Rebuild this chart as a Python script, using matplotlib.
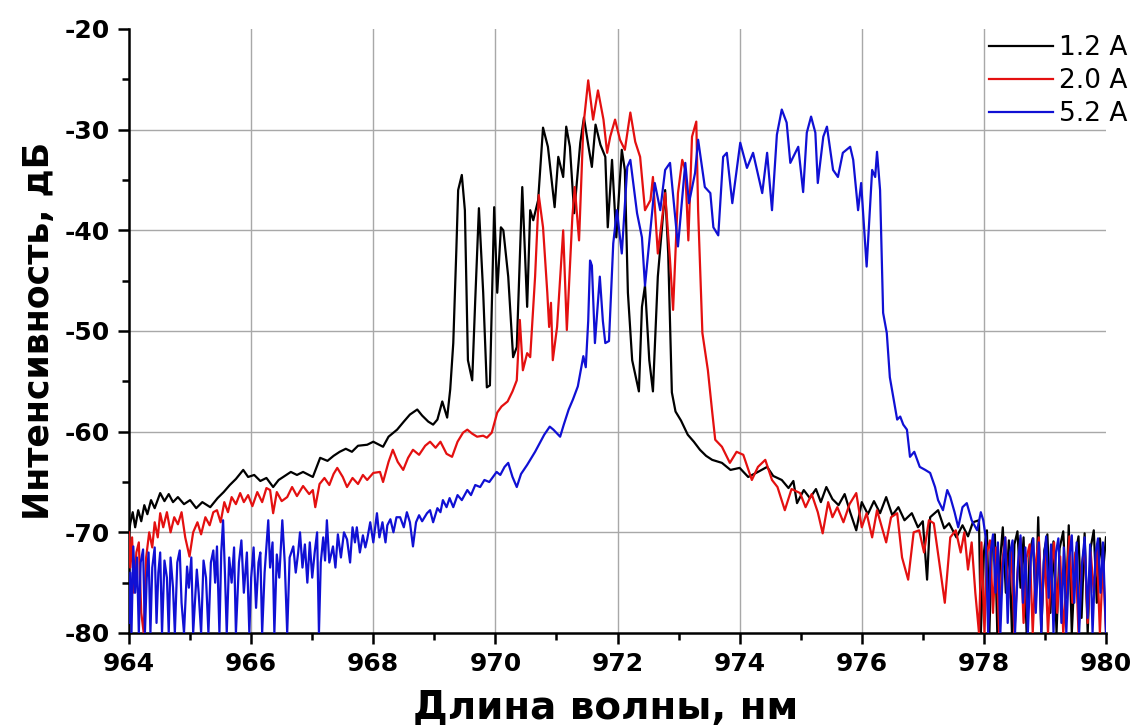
import matplotlib
matplotlib.use("Agg")
import matplotlib.pyplot as plt

plt.rcParams["axes.unicode_minus"] = False

# spectra: wavelength (nm) and intensity (dB)
x_12 = [964.00, 964.02, 964.06, 964.10, 964.15, 964.20, 964.25, 964.30, 964.36, 964.42,
        964.51, 964.58, 964.65, 964.72, 964.80, 964.90, 965.00, 965.10, 965.20, 965.33,
        965.45, 965.55, 965.65, 965.75, 965.87, 965.95, 966.05, 966.15, 966.25, 966.36,
        966.45, 966.55, 966.65, 966.75, 966.85, 967.01, 967.08, 967.13, 967.25, 967.35,
        967.45, 967.55, 967.65, 967.75, 967.90, 968.00, 968.16, 968.25, 968.39, 968.50,
        968.60, 968.72, 968.80, 968.90, 968.98, 969.05, 969.13, 969.21, 969.26, 969.31,
        969.36, 969.39, 969.45, 969.50, 969.55, 969.62, 969.67, 969.73, 969.80, 969.86,
        969.91, 969.98, 970.03, 970.09, 970.13, 970.21, 970.29, 970.35, 970.44, 970.52,
        970.57, 970.62, 970.70, 970.78, 970.86, 970.97, 971.03, 971.11, 971.16, 971.22,
        971.29, 971.39, 971.45, 971.52, 971.58, 971.64, 971.72, 971.80, 971.84, 971.91,
        971.98, 972.07, 972.12, 972.17, 972.24, 972.35, 972.40, 972.45, 972.52, 972.58,
        972.66, 972.78, 972.83, 972.89, 972.95, 973.04, 973.15, 973.25, 973.35, 973.45,
        973.55, 973.71, 973.85, 974.00, 974.14, 974.30, 974.45, 974.55, 974.69, 974.80,
        974.88, 974.94, 975.05, 975.15, 975.25, 975.33, 975.42, 975.52, 975.62, 975.72,
        975.81, 975.91, 976.00, 976.10, 976.20, 976.30, 976.40, 976.50, 976.60, 976.70,
        976.82, 976.92, 977.00, 977.07, 977.12, 977.25, 977.35, 977.43, 977.55, 977.65,
        977.74, 977.82, 977.92, 977.95, 978.00, 978.05, 978.09, 978.13, 978.18, 978.22,
        978.27, 978.31, 978.36, 978.41, 978.46, 978.50, 978.55, 978.60, 978.65, 978.70,
        978.75, 978.80, 978.85, 978.89, 978.94, 978.99, 979.04, 979.09, 979.14, 979.19,
        979.24, 979.30, 979.35, 979.39, 979.44, 979.50, 979.55, 979.60, 979.65, 979.70,
        979.75, 979.80, 979.85, 979.90, 979.95, 980.00]
y_12 = [-70.0, -69.1, -68.0, -69.5, -67.8, -68.9, -67.3, -68.2, -66.8, -67.6,
        -66.1, -66.9, -66.2, -67.0, -66.5, -67.2, -66.8, -67.6, -67.0, -67.5,
        -66.6, -66.0, -65.3, -64.7, -63.8, -64.5, -64.3, -64.9, -64.6, -65.5,
        -64.8, -64.4, -64.0, -64.3, -64.0, -64.5, -63.4, -62.6, -62.9, -62.4,
        -62.0, -61.7, -62.0, -61.4, -61.3, -61.0, -61.5, -60.5, -59.8, -59.0,
        -58.3, -57.8, -58.4, -59.0, -59.3, -58.8, -57.0, -58.6, -55.8, -51.2,
        -42.0, -36.0, -34.5, -38.0, -52.9, -54.9, -46.9, -37.8, -46.2, -55.6,
        -55.4, -37.7, -46.2, -39.7, -40.0, -44.6, -52.6, -51.6, -35.7, -47.6,
        -38.0, -39.0, -37.0, -29.8, -31.7, -37.7, -32.7, -34.7, -29.7, -31.7,
        -38.3, -31.3, -28.8, -31.5, -33.7, -29.5, -31.5, -32.7, -39.7, -33.0,
        -40.7, -32.0, -34.0, -46.2, -52.9, -56.0, -47.6, -45.5, -52.9, -56.0,
        -44.6, -36.0, -42.3, -56.1, -58.0, -58.9, -60.3, -61.0, -61.8, -62.4,
        -62.8, -63.1, -63.8, -63.6, -64.5, -64.0, -63.5, -64.4, -64.8, -65.6,
        -64.9, -67.1, -65.8, -66.6, -65.7, -67.0, -65.5, -66.7, -67.3, -66.2,
        -68.0, -69.8, -67.0, -68.2, -66.9, -68.1, -66.5, -68.3, -67.5, -68.8,
        -68.1, -69.5, -68.9, -74.7, -68.5, -67.8, -69.6, -69.1, -70.5, -69.3,
        -70.4, -69.0, -68.8, -80.0, -72.0, -69.8, -80.0, -71.5, -70.2, -80.0,
        -72.5, -69.5, -76.0, -70.8, -80.0, -71.2, -69.9, -75.5, -70.5, -80.0,
        -72.0, -70.6, -77.0, -68.5, -80.0, -71.8, -70.2, -78.0, -70.9, -80.0,
        -71.6, -69.9, -76.5, -69.3, -80.0, -72.2, -70.4, -78.5, -70.1, -80.0,
        -71.5, -69.8, -77.0, -70.6, -74.0, -70.5]

x_20 = [964.00, 964.02, 964.05, 964.08, 964.12, 964.16, 964.20, 964.24, 964.28, 964.33,
        964.38, 964.42, 964.47, 964.51, 964.56, 964.62, 964.68, 964.74, 964.80, 964.86,
        964.92, 964.99, 965.05, 965.12, 965.18, 965.25, 965.32, 965.38, 965.44, 965.50,
        965.56, 965.62, 965.68, 965.75, 965.82, 965.88, 965.95, 966.02, 966.10, 966.18,
        966.25, 966.31, 966.36, 966.42, 966.50, 966.59, 966.67, 966.75, 966.85, 966.95,
        967.01, 967.05, 967.12, 967.20, 967.28, 967.35, 967.41, 967.50, 967.57, 967.66,
        967.75, 967.83, 967.90, 968.00, 968.11, 968.16, 968.25, 968.32, 968.40, 968.49,
        968.57, 968.65, 968.75, 968.85, 968.93, 969.02, 969.10, 969.20, 969.29, 969.38,
        969.47, 969.54, 969.62, 969.70, 969.80, 969.86, 969.94, 970.03, 970.10, 970.20,
        970.28, 970.35, 970.40, 970.45, 970.52, 970.57, 970.65, 970.71, 970.78, 970.85,
        970.88, 970.91, 970.94, 971.01, 971.11, 971.17, 971.26, 971.30, 971.37, 971.44,
        971.52, 971.60, 971.68, 971.77, 971.83, 971.88, 971.96, 972.04, 972.12, 972.21,
        972.29, 972.37, 972.45, 972.54, 972.58, 972.66, 972.78, 972.86, 972.91, 972.99,
        973.06, 973.11, 973.16, 973.22, 973.29, 973.32, 973.39, 973.48, 973.55, 973.60,
        973.71, 973.84, 973.95, 974.06, 974.20, 974.30, 974.42, 974.53, 974.62, 974.74,
        974.85, 974.99, 975.08, 975.18, 975.28, 975.36, 975.45, 975.52, 975.60, 975.70,
        975.80, 975.91, 976.00, 976.08, 976.17, 976.25, 976.33, 976.40, 976.48, 976.58,
        976.66, 976.76, 976.85, 976.94, 977.02, 977.10, 977.18, 977.27, 977.36, 977.45,
        977.54, 977.62, 977.68, 977.74, 977.80, 977.86, 977.92, 977.96, 978.01, 978.05,
        978.10, 978.15, 978.20, 978.25, 978.30, 978.35, 978.40, 978.45, 978.50, 978.55,
        978.60, 978.65, 978.70, 978.75, 978.80, 978.85, 978.90, 978.95, 979.00, 979.05,
        979.10, 979.15, 979.20, 979.25, 979.30, 979.35, 979.40, 979.45, 979.50, 979.55,
        979.60, 979.65, 979.70, 979.75, 979.80, 979.85, 979.90, 979.95, 980.00]
y_20 = [-70.0, -73.5, -70.5, -76.0, -72.0, -71.0, -78.0, -80.0, -72.5, -70.0,
        -71.5, -69.0, -70.5, -68.1, -69.5, -68.0, -70.0, -68.5, -69.2, -68.0,
        -70.5, -72.4, -70.0, -69.0, -70.2, -68.5, -69.3, -68.0, -67.8, -69.0,
        -67.0, -68.0, -66.5, -67.2, -66.1, -67.0, -66.3, -67.4, -66.0, -67.0,
        -65.6, -65.8, -68.1, -66.0, -66.9, -66.5, -65.5, -66.4, -65.4, -66.2,
        -65.8, -67.5, -65.2, -64.6, -65.3, -64.2, -63.6, -64.5, -65.5, -64.6,
        -65.2, -64.3, -64.8, -64.1, -64.0, -65.0, -63.0, -61.8, -63.0, -63.8,
        -62.6, -61.8, -62.3, -61.4, -61.0, -61.6, -61.0, -62.2, -62.5, -61.0,
        -60.1, -59.8, -60.2, -60.5, -60.4, -60.6, -60.1, -58.1, -57.5, -57.0,
        -56.0, -54.9, -48.9, -53.9, -52.2, -52.6, -44.6, -36.5, -39.7, -46.2,
        -49.6, -47.2, -52.9, -49.6, -40.0, -49.9, -38.7, -35.7, -41.0, -29.7,
        -25.1, -29.0, -26.1, -29.0, -32.3, -30.7, -29.0, -31.0, -32.0, -28.3,
        -31.2, -32.7, -38.0, -37.0, -34.7, -42.3, -36.3, -43.0, -47.9, -36.3,
        -33.0, -34.0, -41.0, -30.7, -29.2, -38.0, -50.2, -53.9, -58.0, -60.8,
        -61.5, -63.1, -62.0, -62.3, -64.8, -63.5, -62.8, -64.8, -65.5, -67.8,
        -65.7, -66.1, -67.5, -66.2, -68.0, -70.1, -67.0, -68.5, -67.5, -69.0,
        -67.2, -66.1, -69.5, -68.1, -70.5, -67.8, -69.5, -71.0, -68.5, -68.1,
        -72.5, -74.7, -70.0, -69.8, -72.0, -68.8, -69.1, -73.0, -77.0, -70.5,
        -69.8, -72.0, -70.0, -73.7, -71.0, -76.0, -80.0, -71.0, -80.0, -72.0,
        -70.8, -78.0, -71.5, -80.0, -73.0, -70.5, -76.5, -71.8, -80.0, -74.0,
        -70.6, -79.0, -72.5, -71.2, -80.0, -73.0, -70.5, -77.5, -72.0, -80.0,
        -74.0, -71.0, -78.0, -72.4, -80.0, -75.0, -70.4, -77.0, -72.0, -80.0,
        -73.5, -71.2, -79.0, -72.0, -76.0, -71.5, -80.0, -73.0, -80.0]

x_52 = [964.00, 964.02, 964.04, 964.07, 964.10, 964.13, 964.16, 964.19, 964.23, 964.26,
        964.29, 964.32, 964.35, 964.38, 964.42, 964.45, 964.48, 964.51, 964.54, 964.58,
        964.62, 964.65, 964.68, 964.72, 964.75, 964.79, 964.83, 964.86, 964.90, 964.95,
        964.98, 965.02, 965.05, 965.11, 965.14, 965.18, 965.22, 965.26, 965.30, 965.34,
        965.38, 965.41, 965.44, 965.48, 965.51, 965.54, 965.57, 965.60, 965.64, 965.68,
        965.72, 965.75, 965.80, 965.84, 965.88, 965.93, 965.97, 966.00, 966.04, 966.08,
        966.12, 966.15, 966.18, 966.22, 966.28, 966.31, 966.35, 966.38, 966.42, 966.46,
        966.51, 966.55, 966.59, 966.63, 966.69, 966.73, 966.77, 966.80, 966.84, 966.88,
        966.92, 966.96, 967.00, 967.04, 967.08, 967.11, 967.14, 967.18, 967.21, 967.24,
        967.28, 967.34, 967.38, 967.42, 967.47, 967.52, 967.57, 967.62, 967.66, 967.70,
        967.73, 967.78, 967.83, 967.87, 967.90, 967.95, 968.00, 968.06, 968.10, 968.15,
        968.20, 968.23, 968.28, 968.33, 968.38, 968.44, 968.50, 968.55, 968.60, 968.65,
        968.70, 968.75, 968.80, 968.88, 968.93, 968.98, 969.05, 969.10, 969.14, 969.20,
        969.25, 969.31, 969.38, 969.45, 969.54, 969.60, 969.67, 969.75, 969.82, 969.90,
        969.96, 970.02, 970.08, 970.15, 970.21, 970.28, 970.35, 970.42, 970.52, 970.57,
        970.65, 970.72, 970.80, 970.89, 970.95, 971.06, 971.12, 971.20, 971.27, 971.35,
        971.44, 971.48, 971.52, 971.55, 971.58, 971.63, 971.71, 971.76, 971.80, 971.86,
        971.93, 971.99, 972.07, 972.16, 972.21, 972.32, 972.40, 972.45, 972.57, 972.61,
        972.70, 972.78, 972.86, 972.99, 973.11, 973.17, 973.27, 973.32, 973.43, 973.52,
        973.57, 973.65, 973.73, 973.79, 973.88, 974.01, 974.12, 974.22, 974.37, 974.45,
        974.53, 974.61, 974.69, 974.77, 974.83, 974.96, 975.04, 975.10, 975.17, 975.24,
        975.28, 975.37, 975.43, 975.53, 975.61, 975.69, 975.81, 975.86, 975.94, 975.99,
        976.08, 976.17, 976.22, 976.25, 976.30, 976.35, 976.41, 976.46, 976.58, 976.63,
        976.68, 976.74, 976.79, 976.86, 976.95, 977.04, 977.12, 977.20, 977.25, 977.33,
        977.40, 977.45, 977.52, 977.58, 977.65, 977.72, 977.80, 977.89, 977.95, 977.99,
        978.03, 978.07, 978.11, 978.15, 978.19, 978.23, 978.27, 978.31, 978.35, 978.39,
        978.43, 978.47, 978.51, 978.56, 978.60, 978.64, 978.68, 978.72, 978.77, 978.81,
        978.85, 978.90, 978.94, 978.98, 979.02, 979.06, 979.10, 979.14, 979.18, 979.22,
        979.27, 979.31, 979.35, 979.40, 979.44, 979.48, 979.52, 979.56, 979.61, 979.65,
        979.70, 979.74, 979.78, 979.83, 979.87, 979.91, 979.95, 980.00]
y_52 = [-79.0, -74.0, -80.0, -71.4, -76.0, -72.5, -80.0, -73.0, -71.7, -80.0,
        -74.5, -72.0, -80.0, -73.5, -71.5, -79.0, -74.0, -72.0, -80.0, -72.8,
        -74.5, -80.0, -72.5, -75.5, -80.0, -73.0, -71.8, -77.0, -80.0, -73.4,
        -75.5, -72.5, -80.0, -73.7, -76.0, -80.0, -72.8, -74.5, -80.0, -73.0,
        -71.8, -75.0, -71.4, -80.0, -72.0, -68.8, -74.0, -80.0, -72.5, -75.0,
        -71.5, -80.0, -73.0, -70.8, -76.0, -72.0, -80.0, -74.5, -71.5, -77.5,
        -73.0, -72.0, -80.0, -74.0, -68.8, -73.5, -71.0, -80.0, -72.2, -74.5,
        -68.8, -73.0, -80.0, -72.5, -71.4, -74.0, -72.0, -70.0, -73.5, -71.2,
        -75.0, -71.0, -74.5, -72.0, -70.0, -80.0, -73.0, -70.5, -72.8, -68.8,
        -73.0, -71.4, -73.5, -70.2, -72.5, -70.0, -70.7, -73.0, -69.5, -71.0,
        -69.5, -72.0, -70.3, -71.5, -70.7, -69.0, -71.0, -68.1, -70.5, -69.0,
        -71.0, -69.3, -68.7, -70.0, -68.5, -68.5, -69.5, -68.0, -69.0, -71.4,
        -69.0, -68.3, -68.9, -68.1, -67.8, -69.0, -67.6, -68.0, -66.8, -67.5,
        -66.6, -67.5, -66.3, -66.8, -65.8, -66.3, -65.3, -65.5, -64.8, -65.0,
        -64.5, -64.0, -64.3, -63.5, -63.1, -64.5, -65.5, -64.2, -63.3, -62.8,
        -62.0, -61.2, -60.3, -59.5, -59.8, -60.5, -59.3, -57.8, -56.8, -55.5,
        -52.5, -53.6, -49.0, -43.0, -43.5, -51.2, -44.6, -49.0, -51.2, -51.0,
        -41.3, -38.0, -42.3, -33.7, -33.0, -38.3, -40.7, -45.5, -38.0, -35.3,
        -38.0, -34.0, -33.3, -41.6, -33.3, -37.3, -34.3, -31.0, -35.7, -36.3,
        -39.7, -40.5, -32.7, -32.3, -37.3, -31.3, -33.8, -32.3, -36.3, -32.3,
        -38.0, -30.5, -28.0, -29.3, -33.3, -31.7, -36.2, -30.3, -28.7, -30.3,
        -35.3, -30.7, -29.7, -34.0, -34.7, -32.3, -31.7, -33.0, -38.0, -35.3,
        -43.6, -34.0, -34.7, -32.2, -36.0, -48.2, -50.2, -54.6, -58.8, -58.5,
        -59.3, -59.8, -62.5, -62.0, -63.5, -63.8, -64.1, -65.5, -66.8, -67.8,
        -65.8, -66.5, -68.0, -69.5, -67.5, -67.1, -68.8, -69.8, -68.0, -68.8,
        -70.5, -80.0, -72.0, -70.2, -76.0, -71.0, -80.0, -73.5, -70.5, -79.0,
        -72.0, -70.8, -80.0, -73.0, -70.3, -77.0, -71.5, -80.0, -72.5, -70.6,
        -78.0, -71.0, -80.0, -73.0, -70.4, -76.5, -71.2, -80.0, -72.0, -70.6,
        -79.0, -71.5, -80.0, -72.5, -70.3, -77.0, -71.0, -80.0, -73.0, -70.5,
        -78.5, -71.2, -80.0, -72.0, -70.6, -76.0, -71.0, -80.0]

labels = ["1.2 A", "2.0 A", "5.2 A"]
colors = ["#000000", "#e41010", "#1010d4"]

x_ticks = [964, 966, 968, 970, 972, 974, 976, 978, 980]
y_ticks = [-80, -70, -60, -50, -40, -30, -20]

fig = plt.figure(figsize=(11.34, 7.25), dpi=100)
ax = fig.add_axes([0.1138, 0.1269, 0.8615, 0.8331])

for xs, ys, lab, c in zip([x_12, x_20, x_52], [y_12, y_20, y_52], labels, colors):
    ax.plot(xs, ys, color=c, lw=1.6, label=lab, zorder=3)

ax.set_xlim(964, 980)
ax.set_ylim(-80, -20)

# grid only on inner ticks
for v in x_ticks[1:-1]:
    ax.axvline(v, color="#a8a8a8", lw=1.0, zorder=1)
for v in y_ticks[1:-1]:
    ax.axhline(v, color="#a8a8a8", lw=1.0, zorder=1)

ax.set_xticks(x_ticks)
ax.set_yticks(y_ticks)
ax.set_xticks([965, 967, 969, 971, 973, 975, 977, 979], minor=True)
ax.set_yticks([-75, -65, -55, -45, -35, -25], minor=True)
ax.tick_params(which="major", direction="out", length=8, width=1.8, labelsize=18, pad=6)
ax.tick_params(which="minor", direction="out", length=5, width=1.8)
for lbl in ax.get_xticklabels() + ax.get_yticklabels():
    lbl.set_fontweight("bold")

ax.spines["top"].set_visible(False)
ax.spines["right"].set_visible(False)
ax.spines["left"].set_linewidth(1.8)
ax.spines["bottom"].set_linewidth(1.8)

ax.set_xlabel("Длина волны, нм", fontsize=28, fontweight="bold")
ax.xaxis.set_label_coords(0.488, -0.093)
ax.set_ylabel("Интенсивность, дБ", fontsize=25, fontweight="bold", labelpad=6)

leg = ax.legend(loc="upper right", bbox_to_anchor=(1.022, 0.99), frameon=False,
                fontsize=19, handlelength=2.4, handletextpad=0.25, labelspacing=0.27,
                borderaxespad=0, borderpad=0)

fig.savefig("out.png", dpi=100)
